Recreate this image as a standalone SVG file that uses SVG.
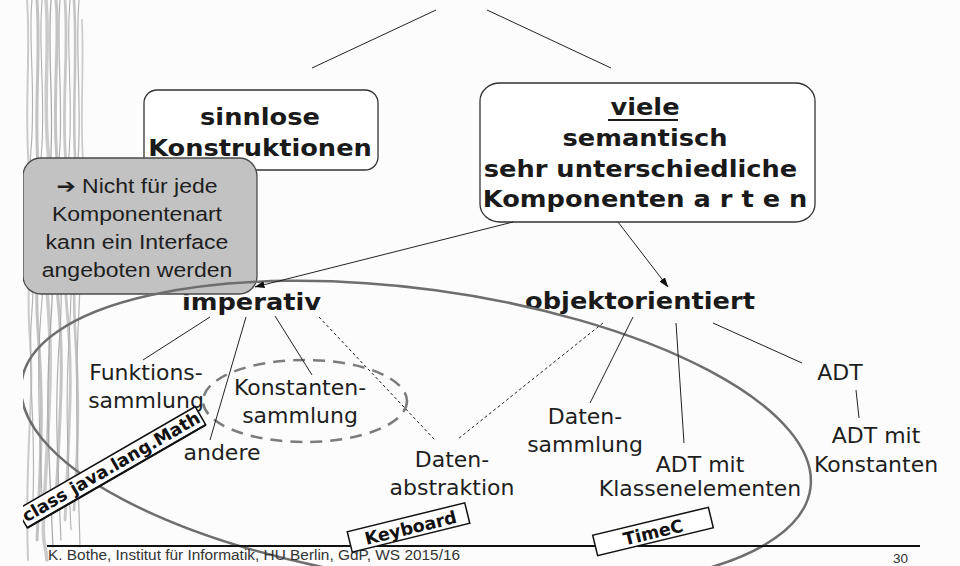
<svg xmlns="http://www.w3.org/2000/svg" width="960" height="566" viewBox="0 0 960 566">
  <defs>
    <clipPath id="page">
      <rect x="23" y="0" width="937" height="566"/>
    </clipPath>
    <marker id="arrow" markerUnits="userSpaceOnUse" markerWidth="10" markerHeight="8" refX="9.5" refY="3.5" orient="auto">
      <path d="M0,0 L10,3.5 L0,7 z" fill="#111"/>
    </marker>
  </defs>
  <style>
    .bold { font-family: "DejaVu Sans", Verdana, sans-serif; font-weight: bold; font-size: 25.7px; fill: #1a1a1a; text-anchor: middle; }
    .label { font-family: "DejaVu Sans", Verdana, sans-serif; font-size: 22px; fill: #1e1e1e; text-anchor: middle; }
    .note { font-family: "Liberation Sans", Arial, "DejaVu Sans", sans-serif; font-size: 23px; fill: #1e1e1e; text-anchor: middle; }
    .tag { font-family: "DejaVu Sans", Verdana, sans-serif; font-weight: bold; font-size: 17.5px; fill: #111; text-anchor: middle; }
    .box { fill: #ffffff; stroke: #333; stroke-width: 1.3; }
    .tagbox { fill: #ffffff; stroke: #111; stroke-width: 1.5; }
    .link { stroke: #222; stroke-width: 1; fill: none; }
    .dotted { stroke: #222; stroke-width: 1; fill: none; stroke-dasharray: 3 2.5; }
    .strand { fill: none; stroke-linecap: round; }
    .foot { font-family: "Liberation Sans", Arial, sans-serif; fill: #333; }
  </style>

  <rect x="0" y="0" width="960" height="566" fill="#fcfcfc"/>

  <g clip-path="url(#page)">
    <!-- decorative bark strands along the left margin -->
    <g id="margin-texture" class="strand">
      <path d="M27,0 C31,50 24,110 29,170 S25,280 30,340 S24,450 28,560" stroke="#cacaca" stroke-width="2"/>
      <path d="M32,0 C28,40 36,90 31,150 S37,250 32,310 S36,420 33,500" stroke="#b4b4b4" stroke-width="1.2"/>
      <path d="M37,0 C41,60 33,120 39,180 S33,260 38,330 S42,440 37,540" stroke="#c2c2c2" stroke-width="3"/>
      <path d="M42,0 C38,50 46,100 41,160 S47,240 42,300 S38,400 43,520" stroke="#a8a8a8" stroke-width="1"/>
      <path d="M46,0 C50,45 43,95 48,150 S42,230 47,290 S51,380 46,470 S44,530 47,560" stroke="#cbcbcb" stroke-width="3.5"/>
      <path d="M51,0 C47,60 55,110 50,170 S56,250 51,320 S47,420 53,547" stroke="#ababab" stroke-width="1.3"/>
      <path d="M56,0 C60,40 52,100 57,160 S52,240 58,300 S61,400 56,500" stroke="#c4c4c4" stroke-width="3"/>
      <path d="M60,0 C56,50 64,110 59,160 S65,260 60,330 S56,430 61,540" stroke="#afafaf" stroke-width="1.2"/>
      <path d="M65,0 C69,55 61,105 66,165 S61,245 67,310 S70,410 65,520" stroke="#c8c8c8" stroke-width="2.8"/>
      <path d="M70,0 C66,45 73,100 69,155 S74,250 70,320 S66,420 71,530" stroke="#a9a9a9" stroke-width="1"/>
      <path d="M74,0 C78,60 71,120 76,170 S71,260 75,330 S79,430 74,510" stroke="#c5c5c5" stroke-width="2.6"/>
      <path d="M79,0 C75,50 82,110 78,160 S83,240 79,310 S77,440 80,547" stroke="#b3b3b3" stroke-width="1.2"/>
      <path d="M82,20 C84,70 80,120 83,160" stroke="#cdcdcd" stroke-width="1.8"/>
    </g>

    <!-- branch lines from the top -->
    <g id="connectors-top">
      <line class="link" x1="436" y1="10" x2="312" y2="68"/>
      <line class="link" x1="487" y1="10" x2="611" y2="68"/>
    </g>

    <g id="node-sinnlos">
      <rect class="box" x="144" y="90" width="234" height="80" rx="13" ry="13"/>
      <text class="bold" transform="matrix(1 0 0 0.9 260 125)"><tspan x="0" y="0">sinnlose</tspan><tspan x="0" y="34.4">Konstruktionen</tspan></text>
    </g>

    <g id="node-viele">
      <rect class="box" x="480" y="83" width="335" height="139" rx="20" ry="18"/>
      <text class="bold" transform="matrix(1 0 0 0.9 645 115)"><tspan x="0" y="0">viele</tspan><tspan x="0" y="34.4">semantisch</tspan><tspan x="0" y="68.9">sehr unterschiedliche </tspan><tspan x="0" y="102.2">Komponenten a r t e n</tspan></text>
      <line x1="608" y1="120" x2="678" y2="120" stroke="#1a1a1a" stroke-width="2"/>
    </g>

    <g id="node-imperativ">
      <text class="bold" transform="matrix(1 0 0 0.9 251.5 310)">imperativ</text>
    </g>

    <g id="node-oo">
      <text class="bold" transform="matrix(1 0 0 0.9 640 309)">objektorientiert</text>
    </g>

    <g id="node-funktionssammlung">
      <text class="label" transform="matrix(1 0 0 0.95 146 380)"><tspan x="0" y="0">Funktions-</tspan><tspan x="0" y="29.5">sammlung</tspan></text>
    </g>

    <g id="node-konstantensammlung">
      <ellipse cx="305" cy="401" rx="102" ry="41" fill="none" stroke="#7c7c7c" stroke-width="2.5" stroke-dasharray="12 8"/>
      <text class="label" transform="matrix(1 0 0 0.95 300 395)"><tspan x="0" y="0">Konstanten-</tspan><tspan x="0" y="29.5">sammlung</tspan></text>
    </g>

    <g id="node-andere">
      <text class="label" transform="matrix(1 0 0 0.95 222 460)">andere</text>
    </g>

    <g id="node-datenabstraktion">
      <text class="label" transform="matrix(1 0 0 0.95 452 467)"><tspan x="0" y="0">Daten-</tspan><tspan x="0" y="29.5">abstraktion</tspan></text>
    </g>

    <g id="node-datensammlung">
      <text class="label" transform="matrix(1 0 0 0.95 585 424)"><tspan x="0" y="0">Daten-</tspan><tspan x="0" y="29.5">sammlung</tspan></text>
    </g>

    <g id="node-adt-klassenelemente">
      <text class="label" transform="matrix(1 0 0 0.95 700 472)"><tspan x="0" y="0">ADT mit</tspan><tspan x="0" y="25.3">Klassenelementen</tspan></text>
    </g>

    <g id="node-adt">
      <text class="label" transform="matrix(1 0 0 0.95 840 380)">ADT</text>
    </g>

    <g id="node-adt-konstanten">
      <text class="label" transform="matrix(1 0 0 0.95 876 443)"><tspan x="0" y="0">ADT mit</tspan><tspan x="0" y="30.5">Konstanten</tspan></text>
    </g>

    <!-- callout note -->
    <g id="node-hinweis">
      <rect x="23" y="158" width="234" height="136" rx="18" ry="18" fill="#c2c2c2" stroke="#4a4a4a" stroke-width="1.3"/>
      <text class="note" transform="matrix(1 0 0 0.88 137 193)"><tspan x="0" y="0">➔ Nicht für jede</tspan><tspan x="0" y="31.8">Komponentenart</tspan><tspan x="0" y="63.6">kann ein Interface</tspan><tspan x="0" y="95.4">angeboten werden</tspan></text>
    </g>

    <!-- grouping outline -->
    <g id="node-gruppe">
      <ellipse cx="416" cy="435" rx="398" ry="146" transform="rotate(7.7 416 435)" fill="none" stroke="#6e6e6e" stroke-width="2.5"/>
    </g>

    <g id="connectors">
      <line class="link" x1="513" y1="222" x2="255" y2="287" marker-end="url(#arrow)"/>
      <line class="link" x1="618" y1="222" x2="668" y2="287" marker-end="url(#arrow)"/>
      <line class="link" x1="210" y1="317" x2="143" y2="360"/>
      <line class="link" x1="246" y1="317" x2="210" y2="440"/>
      <line class="link" x1="275" y1="316" x2="312" y2="375"/>
      <line class="dotted" x1="319" y1="317" x2="435" y2="440"/>
      <line class="dotted" x1="603" y1="323" x2="458" y2="439"/>
      <line class="link" x1="633" y1="317" x2="590" y2="403"/>
      <line class="link" x1="676" y1="323" x2="684" y2="443"/>
      <line class="link" x1="713" y1="323" x2="802" y2="363"/>
      <line class="link" x1="856" y1="390" x2="859" y2="418"/>
    </g>

    <!-- footer -->
    <g id="footer">
      <line x1="47" y1="546" x2="920" y2="546" stroke="#111" stroke-width="2"/>
      <text class="foot" x="48" y="560" font-size="15.4">K. Bothe, Institut für Informatik, HU Berlin, GdP, WS 2015/16</text>
      <text class="foot" x="908" y="563" font-size="13.5" text-anchor="end">30</text>
    </g>

    <!-- example tags -->
    <g id="tag-math" transform="translate(114,472) rotate(-30)">
      <rect class="tagbox" x="-103" y="-16" width="206" height="21"/>
      <line x1="-103" y1="5" x2="103" y2="5" stroke="#111" stroke-width="2.2"/>
      <text class="tag" x="0" y="0">class java.lang.Math</text>
    </g>
    <g id="tag-keyboard" transform="translate(408.5,527.5) rotate(-13.8)">
      <rect class="tagbox" x="-60.5" y="-10.5" width="121" height="21"/>
      <text class="tag" x="2" y="7">Keyboard</text>
    </g>
    <g id="tag-timec" transform="translate(653,531.5) rotate(-13.6)">
      <rect class="tagbox" x="-59.5" y="-10.5" width="119" height="21"/>
      <text class="tag" x="0" y="7">TimeC</text>
    </g>
  </g>
</svg>
